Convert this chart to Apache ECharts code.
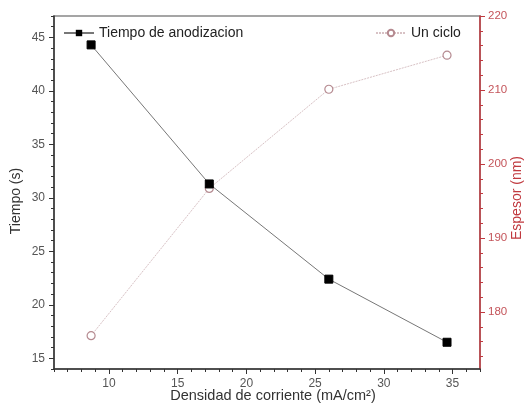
<!DOCTYPE html>
<html>
<head>
<meta charset="utf-8">
<script src="https://cdn.jsdelivr.net/npm/echarts@6/dist/echarts.min.js"></script>
<style>
  html, body { margin: 0; padding: 0; background: #fff; }
  #chart { width: 524px; height: 404px; }
</style>
</head>
<body>
<div id="chart"></div>
<script>
// Current density (mA/cm²)
const densidad = [8.7, 17.3, 26.0, 34.6];
// Anodizing time (s) — left axis
const tiempo = [44.3, 31.3, 22.4, 16.5];
// Thickness after one cycle (nm) — right axis
const espesor = [176.8, 196.7, 210.1, 214.7];

// Tick positions
const xMajor = [10, 15, 20, 25, 30, 35];
const xMinor = [6,7,8,9,11,12,13,14,16,17,18,19,21,22,23,24,26,27,28,29,31,32,33,34,36,37];
const yLeftMajor = [15, 20, 25, 30, 35, 40, 45];
const yLeftMinor = [14,16,17,18,19,21,22,23,24,26,27,28,29,31,32,33,34,36,37,38,39,41,42,43,44,46,47];
const yRightMajor = [180, 190, 200, 210, 220];
const yRightMinor = [174, 176, 178, 182, 184, 186, 188, 192, 194, 196, 198, 202, 204, 206, 208, 212, 214, 216, 218];

// Axis titles
const xTitle = 'Densidad de corriente (mA/cm²)';
const yLeftTitle = 'Tiempo (s)';
const yRightTitle = 'Espesor (nm)';

const FONT = 'Liberation Sans, Arial, sans-serif';
const RED = '#c0393f';
const RED_TXT = '#c4545a';
const GRAY_TXT = '#555';

const chart = echarts.init(document.getElementById('chart'));

function minorAxis(base, values, color) {
  return Object.assign({}, base, {
    name: '',
    axisLine: { show: false },
    axisLabel: { show: false },
    splitLine: { show: false },
    axisTick: { show: true, inside: false, length: 3, customValues: values,
                lineStyle: { color: color, width: 1 } }
  });
}

function title(text, x, y, rotation, color, size) {
  return {
    type: 'text', x: x, y: y, rotation: rotation, silent: true,
    style: { text: text, fill: color, font: size + 'px ' + FONT,
             textAlign: 'center', textVerticalAlign: 'middle' }
  };
}

const xBase = { type: 'value', min: 6, max: 37, position: 'bottom', gridIndex: 0 };
const yLBase = { type: 'value', min: 14, max: 47, position: 'left', gridIndex: 0 };
const yRBase = { type: 'value', min: 172.3, max: 220, position: 'right', gridIndex: 0 };

chart.setOption({
  animation: false,
  backgroundColor: '#fff',
  grid: { left: 54, right: 44, top: 16, bottom: 35, show: true, containLabel: false,
          outerBoundsMode: 'none',
          borderColor: '#888', borderWidth: 1.5, backgroundColor: 'transparent' },
  legend: [
    { data: ['Tiempo de anodizacion'], left: 58, top: 21, itemWidth: 30, itemHeight: 8,
      itemGap: 6, textStyle: { fontFamily: FONT, fontSize: 14, color: '#222' } },
    { data: ['Un ciclo'], left: 370, top: 21, itemWidth: 30, itemHeight: 8,
      textStyle: { fontFamily: FONT, fontSize: 14, color: '#222' } }
  ],
  graphic: [
    title(xTitle, 273, 396, 0, '#333', 14.5),
    title(yLeftTitle, 16, 201, Math.PI / 2, '#333', 14),
    title(yRightTitle, 517, 198, Math.PI / 2, RED, 14)
  ],
  xAxis: [
    Object.assign({}, xBase, {
      axisLine: { show: true, lineStyle: { color: '#333', width: 1.5 } },
      axisTick: { show: true, length: 5, customValues: xMajor, lineStyle: { color: '#333' } },
      axisLabel: { customValues: xMajor, fontFamily: FONT, fontSize: 12, color: GRAY_TXT, margin: 9 },
      splitLine: { show: false }
    }),
    minorAxis(xBase, xMinor, '#333')
  ],
  yAxis: [
    Object.assign({}, yLBase, {
      axisLine: { show: true, lineStyle: { color: '#333', width: 1.5 } },
      axisTick: { show: true, length: 5, customValues: yLeftMajor, lineStyle: { color: '#333' } },
      axisLabel: { customValues: yLeftMajor, fontFamily: FONT, fontSize: 12, color: GRAY_TXT, margin: 9 },
      splitLine: { show: false }
    }),
    Object.assign({}, yRBase, {
      axisLine: { show: true, lineStyle: { color: RED, width: 1.5 } },
      axisTick: { show: true, length: 5, customValues: yRightMajor, lineStyle: { color: RED } },
      axisLabel: { customValues: yRightMajor, fontFamily: FONT, fontSize: 11.5, color: RED_TXT, margin: 8 },
      splitLine: { show: false }
    }),
    minorAxis(yLBase, yLeftMinor, '#333'),
    minorAxis(yRBase, yRightMinor, RED)
  ],
  series: [
    {
      name: 'Tiempo de anodizacion', type: 'line', xAxisIndex: 0, yAxisIndex: 0,
      data: densidad.map((x, i) => [x, tiempo[i]]),
      symbol: 'rect', symbolSize: 8,
      itemStyle: { color: '#000', borderColor: '#000' },
      lineStyle: { color: '#777', width: 1 },
      z: 3
    },
    {
      name: 'Un ciclo', type: 'line', xAxisIndex: 0, yAxisIndex: 1,
      data: densidad.map((x, i) => [x, espesor[i]]),
      symbol: 'circle', symbolSize: 8, showSymbol: true,
      itemStyle: { color: '#fff', borderColor: '#b58a90', borderWidth: 1.2 },
      lineStyle: { color: '#d8c2c5', width: 1, type: [2, 1] },
      z: 2
    }
  ]
});
</script>
</body>
</html>
